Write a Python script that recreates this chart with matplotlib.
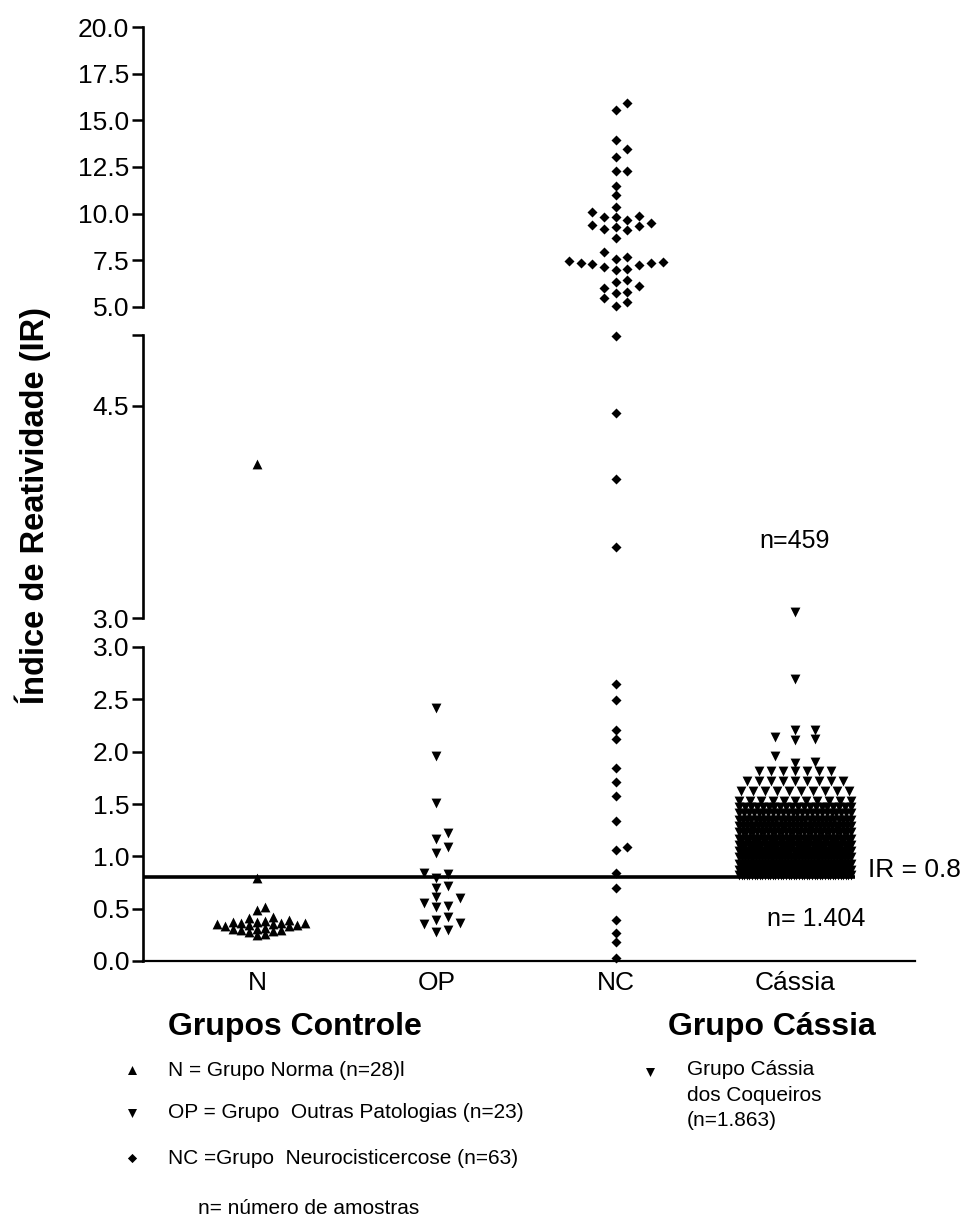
import numpy as np
import matplotlib
matplotlib.use('Agg')
import matplotlib.pyplot as plt

plt.rcParams['font.family'] = ['Liberation Sans', 'DejaVu Sans']

# valores
categories = ['N', 'OP', 'NC', 'Cássia']

n_values = [4.09, 0.79, 0.52, 0.49, 0.42, 0.41, 0.39, 0.38, 0.37, 0.37,
            0.36, 0.36, 0.36, 0.35, 0.35, 0.34, 0.34, 0.33, 0.33, 0.32,
            0.31, 0.31, 0.30, 0.30, 0.29, 0.28, 0.26, 0.25]

op_values = [2.42, 1.96, 1.51, 1.22, 1.17, 1.09, 1.03, 0.84, 0.83, 0.79,
             0.72, 0.70, 0.61, 0.60, 0.55, 0.53, 0.52, 0.42, 0.39, 0.36,
             0.35, 0.30, 0.28]

nc_values = [15.93, 15.57, 13.93, 13.48, 13.03, 12.28, 12.28, 11.48, 10.98, 10.36,
             10.09, 9.86, 9.82, 9.82, 9.64, 9.48, 9.38, 9.32, 9.28, 9.15,
             9.11, 8.68, 7.95, 7.65, 7.55, 7.45, 7.39, 7.34, 7.34, 7.28,
             7.23, 7.13, 7.02, 6.97, 6.43, 6.32, 6.11, 6.00, 5.79, 5.73,
             5.47, 5.25, 5.04,
             4.99, 4.45, 3.98, 3.50,
             2.65, 2.49, 2.21, 2.12, 1.84, 1.71, 1.58, 1.34, 1.09, 1.06,
             0.84, 0.70, 0.39, 0.27, 0.18, 0.03]

# Cassia: pontos isolados + faixas densas (nivel, quantidade)
cassia_sparse = [3.04, 2.69, 2.21, 2.21, 2.14, 2.12, 2.11, 1.96, 1.90, 1.89]
cassia_levels = [1.82, 1.72, 1.62, 1.53, 1.47, 1.41, 1.35, 1.29,
                 1.23, 1.17, 1.11, 1.05, 0.99, 0.93, 0.87, 0.82]
cassia_counts = [7, 9, 10, 11, 20, 24, 28, 30,
                 32, 34, 36, 38, 40, 42, 44, 44]

cutoff = 0.8

W, H = 967, 1217
fig = plt.figure(figsize=(W / 100, H / 100), dpi=100)


def add_panel(y_top_px, y_bot_px):
    left, right = 143, 915
    return fig.add_axes([left / W, 1 - y_bot_px / H, (right - left) / W, (y_bot_px - y_top_px) / H])


ax_top = add_panel(27.3, 306.7)
ax_mid = add_panel(335, 618)
ax_bot = add_panel(647, 961)

xlim = (0.364, 4.669)
for ax in (ax_top, ax_mid, ax_bot):
    ax.set_xlim(*xlim)
    ax.patch.set_alpha(0)
    for s in ('top', 'right'):
        ax.spines[s].set_visible(False)
    ax.spines['left'].set_linewidth(1.9)
    ax.tick_params(axis='y', direction='out', length=8, width=1.8, labelsize=19, pad=2)
    ax.tick_params(axis='y', which='minor', direction='in', length=5, width=1.8)

ax_top.set_ylim(5, 20)
ax_top.set_yticks(np.arange(5, 20.1, 2.5))
ax_top.set_yticklabels(['%.1f' % t for t in np.arange(5, 20.1, 2.5)])
ax_top.set_yticks([5], minor=True)

ax_mid.set_ylim(3, 5)
ax_mid.set_yticks([3.0, 4.5, 5.0])
ax_mid.set_yticklabels(['3.0', '4.5', ''])
ax_mid.set_yticks([3.0, 5.0], minor=True)

ax_bot.set_ylim(0, 3)
ax_bot.set_yticks(np.arange(0, 3.01, 0.5))
ax_bot.set_yticklabels(['%.1f' % t for t in np.arange(0, 3.01, 0.5)])
ax_bot.set_yticks([3.0], minor=True)

for ax in (ax_top, ax_mid):
    ax.spines['bottom'].set_visible(False)
    ax.set_xticks([])

ax_bot.spines['bottom'].set_linewidth(1.6)
ax_bot.set_xticks(range(1, 5))
ax_bot.set_xticklabels(categories)
ax_bot.tick_params(axis='x', length=0, labelsize=19, pad=7)


def panel_for(v):
    if v <= 3.0:
        return ax_bot
    if v <= 5.0:
        return ax_mid
    return ax_top


unit_px = ax_bot.transData.transform((1, 0))[0] - ax_bot.transData.transform((0, 0))[0]


def swarm(values, x0, dx_px=12, dy_px=9):
    # distribui os pontos em colunas, sem sobrepor
    placed = []
    xs = []
    order = [0] + [s * i for i in range(1, 40) for s in (1, -1)]
    for v in values:
        ypx = panel_for(v).transData.transform((x0, v))[1]
        for k in order:
            if all(not (c == k and abs(y - ypx) < dy_px) for c, y in placed):
                break
        placed.append((k, ypx))
        xs.append(x0 + k * dx_px / unit_px)
    return xs


def rows(levels, counts, x0, dx_px=12, half_px=56):
    xs, ys = [], []
    for lv, n in zip(levels, counts):
        half = min(half_px, (n - 1) * dx_px / 2)
        offs = np.linspace(-half, half, n) if n > 1 else np.array([0.0])
        xs.extend(x0 + offs / unit_px)
        ys.extend([lv] * n)
    return xs, ys


def draw(xs, ys, marker, size):
    for ax in (ax_top, ax_mid, ax_bot):
        pts = [(x, y) for x, y in zip(xs, ys) if panel_for(y) is ax]
        if pts:
            px, py = zip(*pts)
            ax.scatter(px, py, marker=marker, s=size, c='black', linewidths=0, clip_on=False, zorder=3)


n_sorted = sorted(n_values)
draw(swarm(n_sorted, 1, dx_px=8, dy_px=6), n_sorted, '^', 50)

op_sorted = sorted(op_values)
draw(swarm(op_sorted, 2), op_sorted, 'v', 50)

nc_sorted = sorted(nc_values)
draw(swarm(nc_sorted, 3, dx_px=11.7), nc_sorted, 'D', 26)

cs_sorted = sorted(cassia_sparse)
draw(swarm(cs_sorted, 4, dx_px=20), cs_sorted, 'v', 50)
rx, ry = rows(cassia_levels, cassia_counts, 4)
draw(rx, ry, 'v', 50)

# linha de corte IR = 0.8
ax_bot.plot([xlim[0], 4.335], [cutoff, cutoff], color='black', lw=2.6, zorder=4, solid_capstyle='butt')

# textos e legenda em coordenadas de pixel
ov = fig.add_axes([0, 0, 1, 1])
ov.set_xlim(0, W)
ov.set_ylim(H, 0)
ov.axis('off')
ov.patch.set_alpha(0)

ov.text(33, 506, 'Índice de Reatividade (IR)', rotation=90, ha='center', va='center',
        fontsize=23.5, fontweight='bold')
ov.text(868, 870, 'IR = 0.8', ha='left', va='center', fontsize=19)
ov.text(795, 541, 'n=459', ha='center', va='center', fontsize=18)
ov.text(816, 919, 'n= 1.404', ha='center', va='center', fontsize=18)

ov.text(168, 1027, 'Grupos Controle', ha='left', va='center', fontsize=23, fontweight='bold')
ov.text(668, 1027, 'Grupo Cássia', ha='left', va='center', fontsize=23, fontweight='bold')

legend_items = [('^', 1070, 'N = Grupo Norma (n=28)l'),
                ('v', 1113, 'OP = Grupo  Outras Patologias (n=23)'),
                ('D', 1158, 'NC =Grupo  Neurocisticercose (n=63)')]
for mk, y, label in legend_items:
    ov.scatter([132], [y], marker=mk, s=42 if mk != 'D' else 22, c='black', linewidths=0)
    ov.text(168, y, label, ha='left', va='center', fontsize=15)
ov.text(198, 1208, 'n= número de amostras', ha='left', va='center', fontsize=15)

ov.scatter([650], [1072], marker='v', s=42, c='black', linewidths=0)
ov.text(687, 1060, 'Grupo Cássia\ndos Coqueiros\n(n=1.863)', ha='left', va='top',
        fontsize=15, linespacing=1.45)

fig.savefig('out.png', dpi=100, facecolor='white')
